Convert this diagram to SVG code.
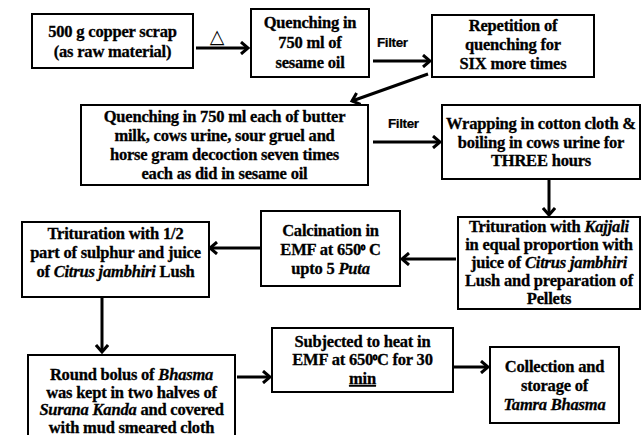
<svg xmlns="http://www.w3.org/2000/svg" width="642" height="435" viewBox="0 0 642 435">
<style>
.box{fill:#fff;stroke:#000;stroke-width:2}
.t{font-family:"Liberation Serif",serif;font-weight:bold;font-size:16.5px;text-anchor:middle;fill:#000;stroke:#000;stroke-width:0.3;letter-spacing:-0.2px}
.i{font-style:italic}
.sup{font-size:12px}
.lbl{font-family:"Liberation Sans",sans-serif;font-weight:bold;font-size:13.5px;fill:#000;stroke:#000;stroke-width:0.2;letter-spacing:-0.4px}
.ar{stroke:#000;stroke-width:3;fill:none;marker-end:url(#ah)}
.tri{font-family:"DejaVu Sans",sans-serif;font-size:19px;text-anchor:middle;fill:#000}
</style>
<defs>
<marker id="ah" markerUnits="userSpaceOnUse" markerWidth="12" markerHeight="14" refX="9" refY="7" orient="auto">
<path d="M2,1 L9,7 L2,13" fill="none" stroke="#000" stroke-width="3"/>
</marker>
</defs>
<rect width="642" height="435" fill="#fff"/>
<g id="connectors">
<path class="ar" d="M196,48 H248"/>
<text class="tri" x="217" y="43">△</text>
<path class="ar" d="M373,61 H430"/>
<text class="lbl" x="377" y="47">Filter</text>
<path class="ar" d="M428,74 L352,101"/>
<path class="ar" d="M373,142 H440"/>
<text class="lbl" x="388" y="128">Filter</text>
<path class="ar" d="M549,180 V215"/>
<path class="ar" d="M456,259 H402"/>
<path class="ar" d="M260,248 H210"/>
<path class="ar" d="M102,297 V352"/>
<path class="ar" d="M237,377 H270"/>
<path class="ar" d="M454,367 H488"/>
</g>
<g id="n1">
<rect class="box" x="32" y="14" width="161" height="54"/>
<text class="t" x="112.5" y="37">500 g copper scrap</text>
<text class="t" x="112.5" y="57">(as raw material)</text>
</g>
<g id="n2">
<rect class="box" x="251" y="9" width="118" height="68"/>
<text class="t" x="310" y="28">Quenching in</text>
<text class="t" x="310" y="48">750 ml of</text>
<text class="t" x="310" y="68">sesame oil</text>
</g>
<g id="n3">
<rect class="box" x="432" y="15" width="162" height="62"/>
<text class="t" x="513" y="31">Repetition of</text>
<text class="t" x="513" y="50">quenching for</text>
<text class="t" x="513" y="69">SIX more times</text>
</g>
<g id="n4">
<rect class="box" x="81" y="105" width="287" height="80"/>
<text class="t" x="224.5" y="122">Quenching in 750 ml each of butter</text>
<text class="t" x="224.5" y="141">milk, cows urine, sour gruel and</text>
<text class="t" x="224.5" y="160">horse gram decoction seven times</text>
<text class="t" x="224.5" y="179">each as did in sesame oil</text>
</g>
<g id="n5">
<rect class="box" x="442" y="105" width="198" height="74"/>
<text class="t" x="541" y="129">Wrapping in cotton cloth &amp;</text>
<text class="t" x="541" y="147.5">boiling in cows urine for</text>
<text class="t" x="541" y="166">THREE hours</text>
</g>
<g id="n6">
<rect class="box" x="458" y="217" width="182" height="92"/>
<text class="t" x="549" y="232">Trituration with <tspan class="i">Kajjali</tspan></text>
<text class="t" x="549" y="250">in equal proportion with</text>
<text class="t" x="549" y="268">juice of <tspan class="i">Citrus jambhiri</tspan></text>
<text class="t" x="549" y="286">Lush and preparation of</text>
<text class="t" x="549" y="304">Pellets</text>
</g>
<g id="n7">
<rect class="box" x="261" y="211" width="139" height="75"/>
<text class="t" x="330.5" y="236">Calcination in</text>
<text class="t" x="330.5" y="255">EMF at 650<tspan class="sup">⁰</tspan> C</text>
<text class="t" x="330.5" y="274">upto 5 <tspan class="i">Puta</tspan></text>
</g>
<g id="n8">
<rect class="box" x="22" y="222" width="187" height="75"/>
<text class="t" x="115.5" y="239">Trituration with 1/2</text>
<text class="t" x="115.5" y="258">part of sulphur and juice</text>
<text class="t" x="115.5" y="277">of <tspan class="i">Citrus jambhiri</tspan> Lush</text>
</g>
<g id="n9">
<rect class="box" x="28" y="355" width="207" height="84"/>
<text class="t" x="131.5" y="380">Round bolus of <tspan class="i">Bhasma</tspan></text>
<text class="t" x="131.5" y="397.5">was kept in two halves of</text>
<text class="t" x="131.5" y="415"><tspan class="i">Surana Kanda</tspan> and covered</text>
<text class="t" x="131.5" y="432.5">with mud smeared cloth</text>
</g>
<g id="n10">
<rect class="box" x="272" y="328" width="181" height="64"/>
<text class="t" x="362.5" y="347">Subjected to heat in</text>
<text class="t" x="362.5" y="365">EMF at 650<tspan class="sup">⁰</tspan>C for 30</text>
<text class="t" x="362.5" y="384" style="text-decoration:underline">min</text>
</g>
<g id="n11">
<rect class="box" x="490" y="347" width="129" height="76"/>
<text class="t" x="554.5" y="372">Collection and</text>
<text class="t" x="554.5" y="391">storage of</text>
<text class="t" x="554.5" y="410"><tspan class="i">Tamra Bhasma</tspan></text>
</g>
</svg>
